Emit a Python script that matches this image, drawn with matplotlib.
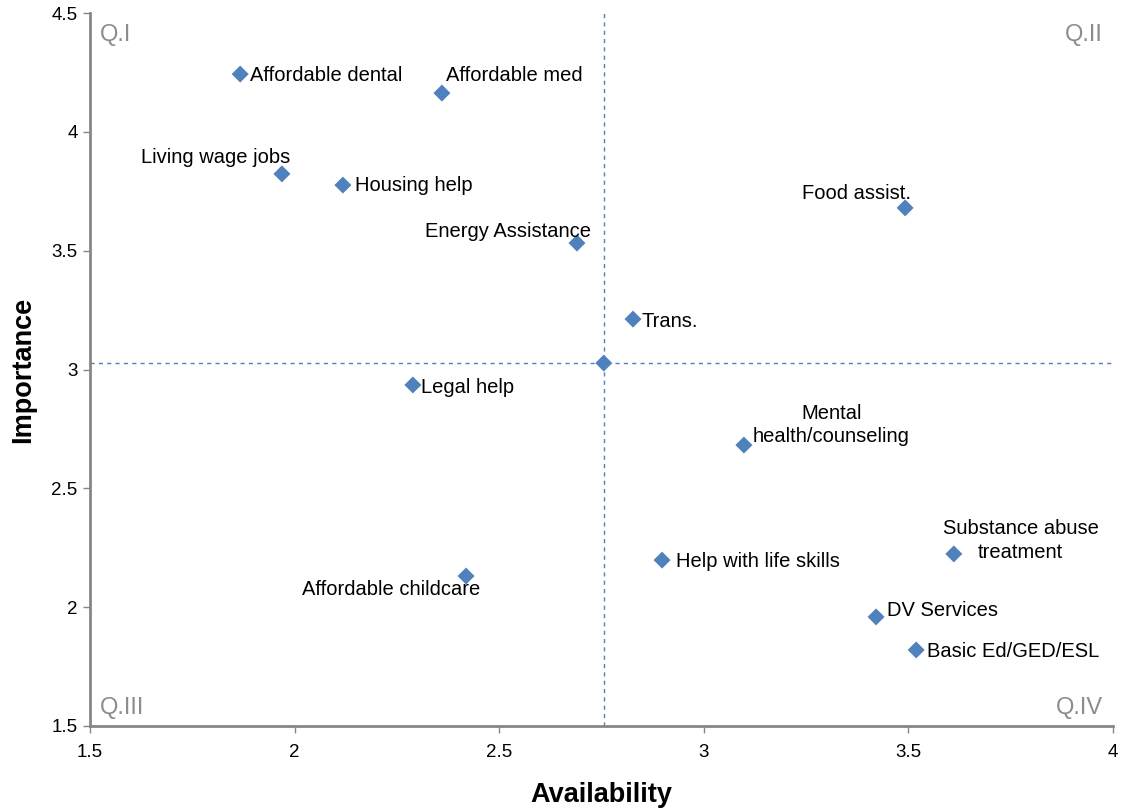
import numpy as np
import matplotlib
matplotlib.use("Agg")
import matplotlib.pyplot as plt
from matplotlib.ticker import FuncFormatter

plt.rcParams['font.family'] = ['Liberation Sans', 'DejaVu Sans']

labels = ["Affordable dental", "Affordable med", "Living wage jobs", "Housing help",
          "Energy Assistance", "Food assist.", "Trans.", "Legal help",
          "Mental\nhealth/counseling", "Substance abuse\ntreatment",
          "Help with life skills", "Affordable childcare", "DV Services",
          "Basic Ed/GED/ESL"]
availability = [1.867, 2.360, 1.969, 2.118, 2.690, 3.492, 2.827, 2.289,
                3.098, 3.611, 2.898, 2.419, 3.421, 3.519]
importance = [4.243, 4.163, 3.823, 3.776, 3.532, 3.680, 3.212, 2.935,
              2.682, 2.224, 2.198, 2.131, 1.959, 1.820]

# label offsets in points (dx, dy), horizontal alignment
label_pos = [(7, -1, 'left'), (3, 13, 'left'), (6, 11.5, 'right'), (9, -0.5, 'left'),
             (10, 8, 'right'), (4, 10, 'right'), (6, -1.5, 'left'), (6, -1.5, 'left'),
             (63, 14.5, 'center'), (48, 9.5, 'center'),
             (10, -1, 'left'), (10, -9.5, 'right'), (8, 4.5, 'left'), (8, -1, 'left')]

blue = '#4F81BD'
gray = '#868686'

fig = plt.figure(figsize=(11.31, 8.11), dpi=100)
ax = fig.add_axes([90/1131, 1 - 726/811, (1113-90)/1131, (726-13)/811])

mx = np.mean(availability)
my = np.mean(importance)

ax.axvline(mx, color=blue, lw=1, ls=(0, (3, 3)), zorder=1)
ax.axhline(my, color=blue, lw=1, ls=(0, (3, 3)), zorder=1)

ax.scatter(availability, importance, marker='D', s=75, color=blue, edgecolors='none', zorder=3)
ax.scatter([mx], [my], marker='D', s=75, color=blue, edgecolors='none', zorder=3)

for x, y, lab, (dx, dy, ha) in zip(availability, importance, labels, label_pos):
    ax.annotate(lab, (x, y), xytext=(dx, dy), textcoords='offset points',
                ha=ha, va='center', fontsize=14.5, color='black',
                multialignment='center', linespacing=1.3)

ax.set_xlim(1.5, 4)
ax.set_ylim(1.5, 4.5)
ax.set_xticks(np.arange(1.5, 4.01, 0.5))
ax.set_yticks(np.arange(1.5, 4.51, 0.5))
fmt = FuncFormatter(lambda v, p: f"{v:g}")
ax.xaxis.set_major_formatter(fmt)
ax.yaxis.set_major_formatter(fmt)
ax.tick_params(axis='both', direction='out', length=5, width=1, color=gray,
               labelsize=13.5, labelcolor='black')
ax.tick_params(axis='x', pad=8)
ax.tick_params(axis='y', pad=4)

for s in ['top', 'right']:
    ax.spines[s].set_visible(False)
for s in ['left', 'bottom']:
    ax.spines[s].set_color(gray)
    ax.spines[s].set_linewidth(2)

ax.set_xlabel("Availability", fontsize=19.5, fontweight='bold', labelpad=15)
ax.set_ylabel("Importance", fontsize=19.5, fontweight='bold', labelpad=11)

qcol = '#8C8C8C'
ax.text(0.01, 0.985, "Q.I", transform=ax.transAxes, ha='left', va='top', fontsize=17, color=qcol)
ax.text(0.99, 0.985, "Q.II", transform=ax.transAxes, ha='right', va='top', fontsize=17, color=qcol)
ax.text(0.01, 0.01, "Q.III", transform=ax.transAxes, ha='left', va='bottom', fontsize=17, color=qcol)
ax.text(0.99, 0.01, "Q.IV", transform=ax.transAxes, ha='right', va='bottom', fontsize=17, color=qcol)

fig.savefig("out.png", dpi=100)
